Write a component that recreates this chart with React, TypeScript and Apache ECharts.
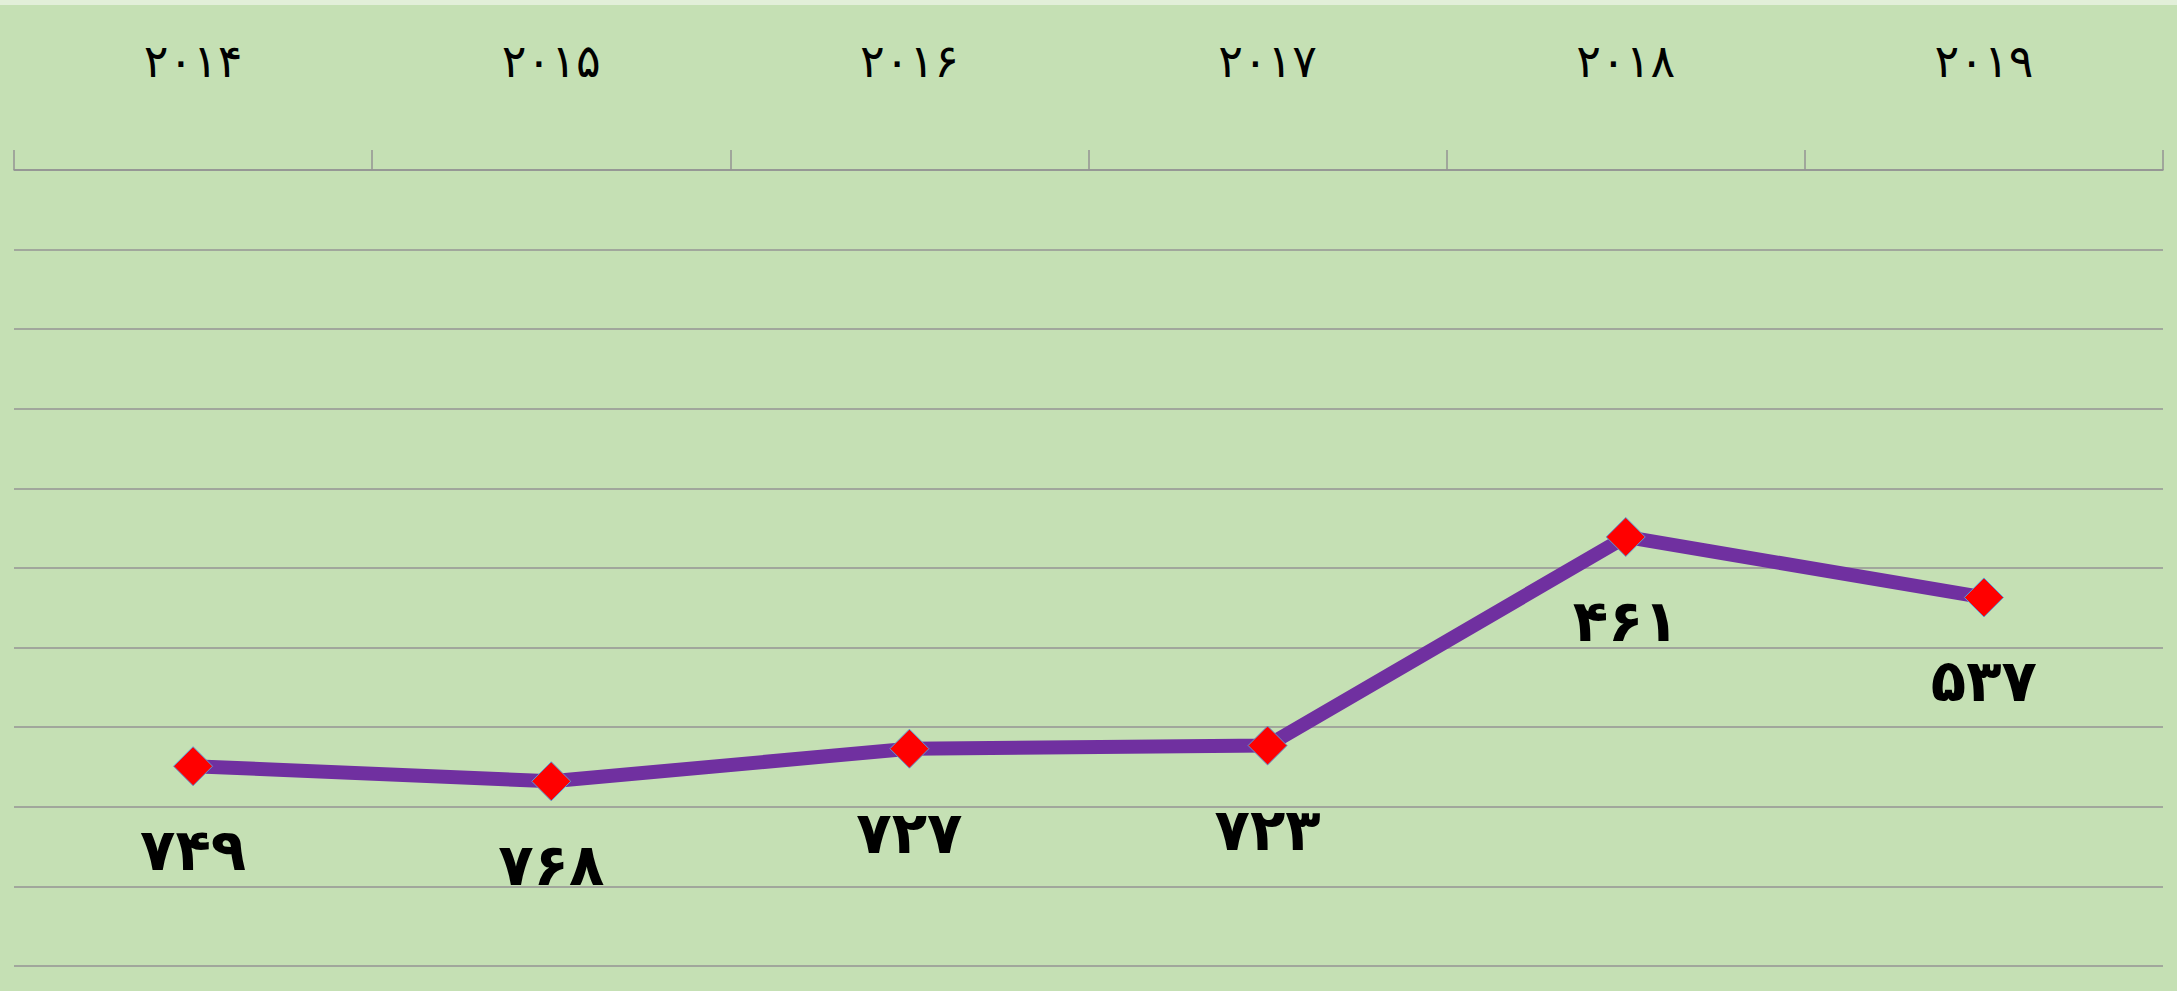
import React, { useEffect, useRef } from "react";
import * as echarts from "echarts";

const years = ["۲۰۱۴", "۲۰۱۵", "۲۰۱۶", "۲۰۱۷", "۲۰۱۸", "۲۰۱۹"];
const values = [749, 768, 727, 723, 461, 537];
const yMin = 0;
const yMax = 1000;
const yInterval = 100;

const faDigits = "۰۱۲۳۴۵۶۷۸۹";
const toFa = (n: number) => String(n).replace(/[0-9]/g, (d) => faDigits[+d]);

export default function App() {
  const ref = useRef<HTMLDivElement>(null);
  useEffect(() => {
    const chart = echarts.init(ref.current!, null, { renderer: "svg" });
    chart.setOption({
      animation: false,
      backgroundColor: "#c5e0b4",
      graphic: [
        { type: "rect", left: 0, top: 0, shape: { width: 2177, height: 5 }, style: { fill: "#e2efd9" } },
      ],
      grid: { left: 14, right: 14, top: 170, bottom: 25, containLabel: false },
      xAxis: {
        type: "category",
        position: "top",
        data: years,
        boundaryGap: true,
        axisLine: { show: true, lineStyle: { color: "#939393", width: 1.5 } },
        axisTick: { show: true, length: 20, lineStyle: { color: "#939393", width: 1.5 } },
        axisLabel: {
          color: "#000",
          fontFamily: "DejaVu Sans",
          fontSize: 46,
          margin: 86,
        },
        splitLine: { show: false },
      },
      yAxis: {
        type: "value",
        inverse: true,
        min: yMin,
        max: yMax,
        interval: yInterval,
        axisLine: { show: false },
        axisTick: { show: false },
        axisLabel: { show: false },
        splitLine: { show: true, lineStyle: { color: "#959595", width: 1.5 } },
      },
      series: [
        {
          type: "line",
          data: values,
          lineStyle: { color: "#7030a0", width: 14 },
          itemStyle: { color: "#ff0000", borderColor: "#5b9bd5", borderWidth: 1 },
          symbol: "diamond",
          symbolSize: 39,
          label: {
            show: true,
            position: "inside",
            offset: [0, 84],
            formatter: (p: any) => toFa(p.value),
            color: "#000",
            fontFamily: "DejaVu Sans",
            fontWeight: "bold",
            fontSize: 58,
          },
        },
      ],
    });
    return () => chart.dispose();
  }, []);
  return <div ref={ref} style={{ width: 2177, height: 991, position: "absolute", left: 0, top: 0 }} />;
}
